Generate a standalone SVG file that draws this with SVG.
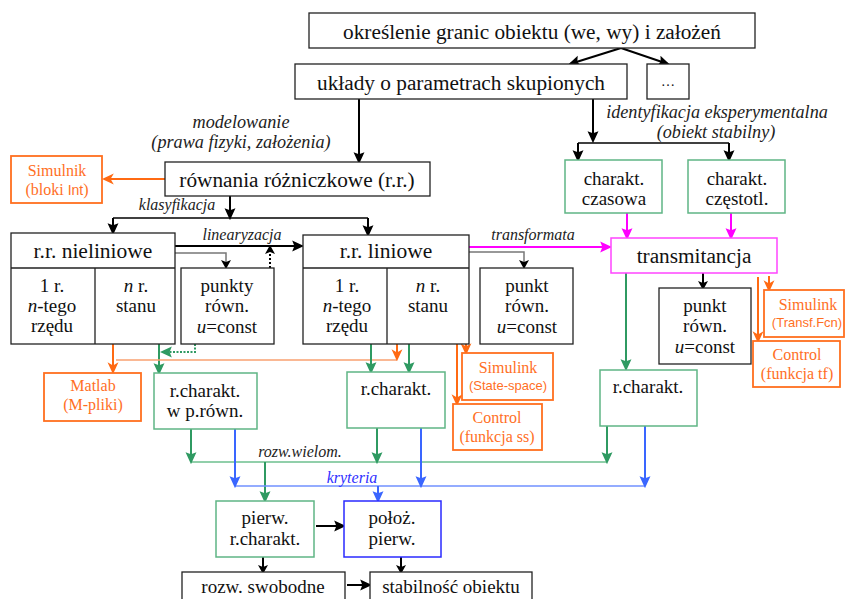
<svg xmlns="http://www.w3.org/2000/svg" width="845" height="599" viewBox="0 0 845 599">
<defs>
<style>
text{font-family:"Liberation Serif","Times New Roman",serif;fill:#111;text-anchor:middle}
.t20{font-size:21.3px}
.t21{font-size:21.5px}
.t18{font-size:19px}
.it{font-style:italic;fill:#222}
.i18{font-size:18.2px}
.i16{font-size:16px}
.or{fill:#ff6f1f;font-size:16px}
.ors{fill:#ff6f1f;font-size:13px;font-family:"Liberation Sans",Arial,sans-serif}
.bx{fill:#fff;stroke:#222;stroke-width:1.3}
.gb{fill:#fff;stroke:#5fb585;stroke-width:1.5}
.ob{fill:#fff;stroke:#ff6f1f;stroke-width:1.8}
.ln{fill:none;stroke-width:2}
.k{stroke:#000}
.g{stroke:#2f9a62}
.o{stroke:#ff6a13}
.m{stroke:#ff00ff}
.b{stroke:#3a66ff}
</style>
<marker id="ak" markerUnits="userSpaceOnUse" markerWidth="12" markerHeight="12" refX="9" refY="5" orient="auto" viewBox="0 0 11 10"><path d="M0,0 L11,5 L0,10 L2,5 z" fill="#000"/></marker>
<marker id="ag" markerUnits="userSpaceOnUse" markerWidth="12" markerHeight="12" refX="9" refY="5" orient="auto" viewBox="0 0 11 10"><path d="M0,0 L11,5 L0,10 L2,5 z" fill="#2f9a62"/></marker>
<marker id="ao" markerUnits="userSpaceOnUse" markerWidth="12" markerHeight="12" refX="9" refY="5" orient="auto" viewBox="0 0 11 10"><path d="M0,0 L11,5 L0,10 L3,5 z" fill="#ff6a13"/></marker>
<marker id="am" markerUnits="userSpaceOnUse" markerWidth="12" markerHeight="12" refX="9" refY="5" orient="auto" viewBox="0 0 11 10"><path d="M0,0 L11,5 L0,10 L2,5 z" fill="#ff00ff"/></marker>
<marker id="ab" markerUnits="userSpaceOnUse" markerWidth="12" markerHeight="12" refX="9" refY="5" orient="auto" viewBox="0 0 11 10"><path d="M0,0 L11,5 L0,10 L2,5 z" fill="#3a66ff"/></marker>
<marker id="as" markerUnits="userSpaceOnUse" markerWidth="10" markerHeight="10" refX="7" refY="5" orient="auto" viewBox="0 0 9 10"><path d="M0,0 L9,5 L0,10 L2,5 z" fill="#000"/></marker>
</defs>
<rect width="845" height="599" fill="#fff"/>

<g id="connectors">
<path class="ln k" d="M621,48 L570,64" marker-end="url(#ak)"/>
<path class="ln k" d="M621,48 L668,64" marker-end="url(#ak)"/>
<path class="ln k" d="M359,99 L359,162" marker-end="url(#ak)"/>
<path class="ln k" d="M593,99 L593,141" marker-end="url(#ak)"/>
<path class="ln k" d="M578,143 L729,143" style="stroke-width:1.5"/>
<path class="ln k" d="M578,143 L578,160" marker-end="url(#ak)"/>
<path class="ln k" d="M729,143 L729,160" marker-end="url(#ak)"/>
<path class="ln o" d="M165,179 L104,179" marker-end="url(#ao)"/>
<path class="ln k" d="M230,196 L230,218" marker-end="url(#ak)"/>
<path class="ln k" d="M113,218 L368,218" style="stroke-width:1.5"/>
<path class="ln k" d="M113,218 L113,233" marker-end="url(#ak)"/>
<path class="ln k" d="M368,218 L368,235" marker-end="url(#ak)"/>
<path class="ln k" d="M175,246 L302,246" marker-end="url(#ak)"/>
<path class="ln" stroke="#777" style="stroke-width:1.5" d="M171,253 L226,253 L226,267" marker-end="url(#as)"/>
<path class="ln k" d="M270,268 L270,247" stroke-dasharray="2,2" marker-end="url(#as)"/>
<path class="ln g" d="M195,344 L195,352 L162,352" stroke-dasharray="2,1.5" marker-end="url(#ag)"/>
<path class="ln g" d="M159,344 L159,373" marker-end="url(#ag)"/>
<path class="ln o" d="M113,344 L113,372" marker-end="url(#ao)"/>
<path fill="none" stroke="#f8a070" stroke-width="1.5" d="M116,360 L397,360"/>
<path class="ln k" d="M80,292 Q95,272 109,291" marker-end="url(#as)"/>
<path class="ln k" d="M109,310 Q95,288 80,307" stroke-dasharray="2,2" marker-end="url(#as)"/>
<path class="ln m" d="M467,247 L610,247" marker-end="url(#am)"/>
<path class="ln" stroke="#777" style="stroke-width:1.5" d="M466,252 L524,252 L524,267" marker-end="url(#as)"/>
<path class="ln k" d="M372,292 Q387,272 401,291" marker-end="url(#as)"/>
<path class="ln k" d="M401,310 Q387,288 373,307" marker-end="url(#as)"/>
<path class="ln g" d="M371,344 L371,372" marker-end="url(#ag)"/>
<path class="ln g" d="M409,344 L409,372" marker-end="url(#ag)"/>
<path class="ln o" d="M397,342 L397,359" marker-end="url(#ao)"/>
<path class="ln o" d="M466,342 L466,353" marker-end="url(#ao)"/>
<path class="ln o" d="M457,342 L457,404" marker-end="url(#ao)"/>
<path class="ln m" d="M627,213 L627,238" marker-end="url(#am)"/>
<path class="ln m" d="M731,213 L731,238" marker-end="url(#am)"/>
<path class="ln k" d="M703,273 L703,288" marker-end="url(#as)"/>
<path class="ln g" d="M626,273 L626,369" marker-end="url(#ag)"/>
<path class="ln o" d="M769,276 L769,290" marker-end="url(#ao)"/>
<path class="ln o" d="M758,277 L758,341" marker-end="url(#ao)"/>
<path fill="none" stroke="#6cbf8e" stroke-width="1.5" d="M191,462 L607,462"/>
<path class="ln g" d="M191,429 L191,462" marker-end="url(#ag)"/>
<path class="ln g" d="M377,428 L377,462" marker-end="url(#ag)"/>
<path class="ln g" d="M607,426 L607,462" marker-end="url(#ag)"/>
<path class="ln g" d="M265,462 L265,501" marker-end="url(#ag)"/>
<path fill="none" stroke="#7090ff" stroke-width="1.5" d="M235,486 L645,486"/>
<path class="ln b" d="M235,429 L235,486" marker-end="url(#ab)"/>
<path class="ln b" d="M421,428 L421,486" marker-end="url(#ab)"/>
<path class="ln b" d="M645,426 L645,486" marker-end="url(#ab)"/>
<path class="ln b" d="M378,486 L378,501" marker-end="url(#ab)"/>
<path class="ln k" d="M316,526 L344,526" marker-end="url(#ak)"/>
<path class="ln k" d="M263,557 L263,572" marker-end="url(#as)"/>
<path class="ln k" d="M401,557 L401,572" marker-end="url(#as)"/>
<path class="ln k" d="M347,585 L370,585" marker-end="url(#ak)"/>
</g>

<g id="labels">
<text class="it i18" x="241" y="128">modelowanie</text>
<text class="it i18" x="241" y="148">(prawa fizyki, założenia)</text>
<text class="it i18" x="717" y="118">identyfikacja eksperymentalna</text>
<text class="it i18" x="716" y="138">(obiekt stabilny)</text>
<text class="it i16" x="177" y="210">klasyfikacja</text>
<text class="it i16" x="242" y="240">linearyzacja</text>
<text class="it i16" x="533" y="240">transformata</text>
<text class="it i16" x="300" y="457">rozw.wielom.</text>
<text class="it i16" x="352" y="483" style="fill:#3030ff">kryteria</text>
</g>

<g id="n-okreslenie"><rect class="bx" x="309" y="13" width="446" height="35"/><text class="t20" x="532" y="39">określenie granic obiektu (we, wy) i założeń</text></g>
<g id="n-uklady"><rect class="bx" x="295" y="64" width="332" height="35"/><text class="t20" x="461" y="90">układy o parametrach skupionych</text></g>
<g id="n-dots"><rect class="bx" x="647" y="64" width="42" height="35"/><text style="font-size:14px" x="668" y="86">…</text></g>
<g id="n-rownania"><rect class="bx" x="165" y="162" width="265" height="34"/><text class="t20" x="297" y="187">równania różniczkowe (r.r.)</text></g>
<g id="n-simulnik"><rect class="ob" x="11" y="156" width="91" height="47"/><text class="or" x="57" y="176">Simulnik</text><text class="or" x="57" y="195">(bloki <tspan style="font-family:'Liberation Sans',Arial,sans-serif;font-size:14px">Int</tspan>)</text></g>

<g id="n-nieliniowe"><rect class="bx" x="11" y="233" width="164" height="111"/><path d="M11,268 L175,268 M95,268 L95,344" stroke="#222" stroke-width="1.3" fill="none"/>
<text class="t21" x="93" y="258">r.r. nieliniowe</text>
<text class="t18" x="52" y="292">1 r.</text><text class="t18" x="52" y="312"><tspan font-style="italic">n</tspan>-tego</text><text class="t18" x="52" y="332">rzędu</text>
<text class="t18" x="136" y="292"><tspan font-style="italic">n</tspan> r.</text><text class="t18" x="136" y="312">stanu</text></g>
<g id="n-punkty"><rect class="bx" x="181" y="268" width="93" height="76"/><text class="t18" x="227" y="292">punkty</text><text class="t18" x="227" y="312">równ.</text><text class="t18" x="227" y="333"><tspan font-style="italic">u</tspan>=const</text></g>

<g id="n-liniowe"><rect class="bx" x="303" y="235" width="166" height="109"/><path d="M303,268 L469,268 M387,268 L387,344" stroke="#222" stroke-width="1.3" fill="none"/>
<text class="t21" x="386" y="258">r.r. liniowe</text>
<text class="t18" x="347" y="292">1 r.</text><text class="t18" x="347" y="312"><tspan font-style="italic">n</tspan>-tego</text><text class="t18" x="347" y="332">rzędu</text>
<text class="t18" x="428" y="292"><tspan font-style="italic">n</tspan> r.</text><text class="t18" x="428" y="312">stanu</text></g>
<g id="n-punkt-lin"><rect class="bx" x="480" y="268" width="93" height="76"/><text class="t18" x="527" y="292">punkt</text><text class="t18" x="527" y="312">równ.</text><text class="t18" x="527" y="333"><tspan font-style="italic">u</tspan>=const</text></g>

<g id="n-czasowa"><rect class="gb" x="565" y="160" width="97" height="53"/><text class="t18" x="614" y="185">charakt.</text><text class="t18" x="614" y="205">czasowa</text></g>
<g id="n-czestotl"><rect class="gb" x="688" y="160" width="97" height="53"/><text class="t18" x="737" y="185">charakt.</text><text class="t18" x="737" y="205">częstotl.</text></g>
<g id="n-transmitancja"><rect x="611" y="238" width="166" height="35" fill="#fff" stroke="#ff44ff" stroke-width="1.5"/><text class="t20" x="694" y="263">transmitancja</text></g>
<g id="n-punkt-tr"><rect class="bx" x="659" y="288" width="92" height="76"/><text class="t18" x="705" y="312">punkt</text><text class="t18" x="705" y="332">równ.</text><text class="t18" x="705" y="353"><tspan font-style="italic">u</tspan>=const</text></g>
<g id="n-simulink-tf"><rect class="ob" x="764" y="290" width="80" height="47"/><text class="or" x="808" y="310">Simulink</text><text class="ors" x="807" y="327">(Transf.Fcn)</text></g>
<g id="n-control-tf"><rect class="ob" x="753" y="341" width="87" height="46"/><text class="or" x="797" y="360">Control</text><text class="or" x="797" y="379">(funkcja tf)</text></g>

<g id="n-matlab"><rect class="ob" x="44" y="373" width="97" height="48"/><text class="or" x="93" y="391">Matlab</text><text class="or" x="93" y="410">(M-pliki)</text></g>
<g id="n-rchar-nl"><rect class="gb" x="154" y="373" width="103" height="56"/><text class="t18" x="205" y="397">r.charakt.</text><text class="t18" x="205" y="417">w p.równ.</text></g>
<g id="n-rchar-lin"><rect class="gb" x="347" y="372" width="98" height="56"/><text class="t18" x="396" y="395">r.charakt.</text></g>
<g id="n-simulink-ss"><rect class="ob" x="462" y="353" width="91" height="47"/><text class="or" x="508" y="373">Simulink</text><text class="ors" x="508" y="390">(State-space)</text></g>
<g id="n-control-ss"><rect class="ob" x="453" y="404" width="89" height="46"/><text class="or" x="497" y="423">Control</text><text class="or" x="497" y="442">(funkcja ss)</text></g>
<g id="n-rchar-tr"><rect class="gb" x="600" y="370" width="97" height="56"/><text class="t18" x="648" y="393">r.charakt.</text></g>

<g id="n-pierw"><rect class="gb" x="216" y="501" width="98" height="56"/><text class="t18" x="265" y="524">pierw.</text><text class="t18" x="265" y="545">r.charakt.</text></g>
<g id="n-poloz"><rect x="344" y="501" width="97" height="56" fill="#fff" stroke="#2a2aff" stroke-width="1.5"/><text class="t18" x="392" y="524">położ.</text><text class="t18" x="392" y="545">pierw.</text></g>
<g id="n-rozw"><rect class="bx" x="182" y="572" width="163" height="35"/><text class="t18" x="263" y="593">rozw. swobodne</text></g>
<g id="n-stab"><rect class="bx" x="370" y="572" width="162" height="35"/><text class="t18" x="451" y="593">stabilność obiektu</text></g>
</svg>
